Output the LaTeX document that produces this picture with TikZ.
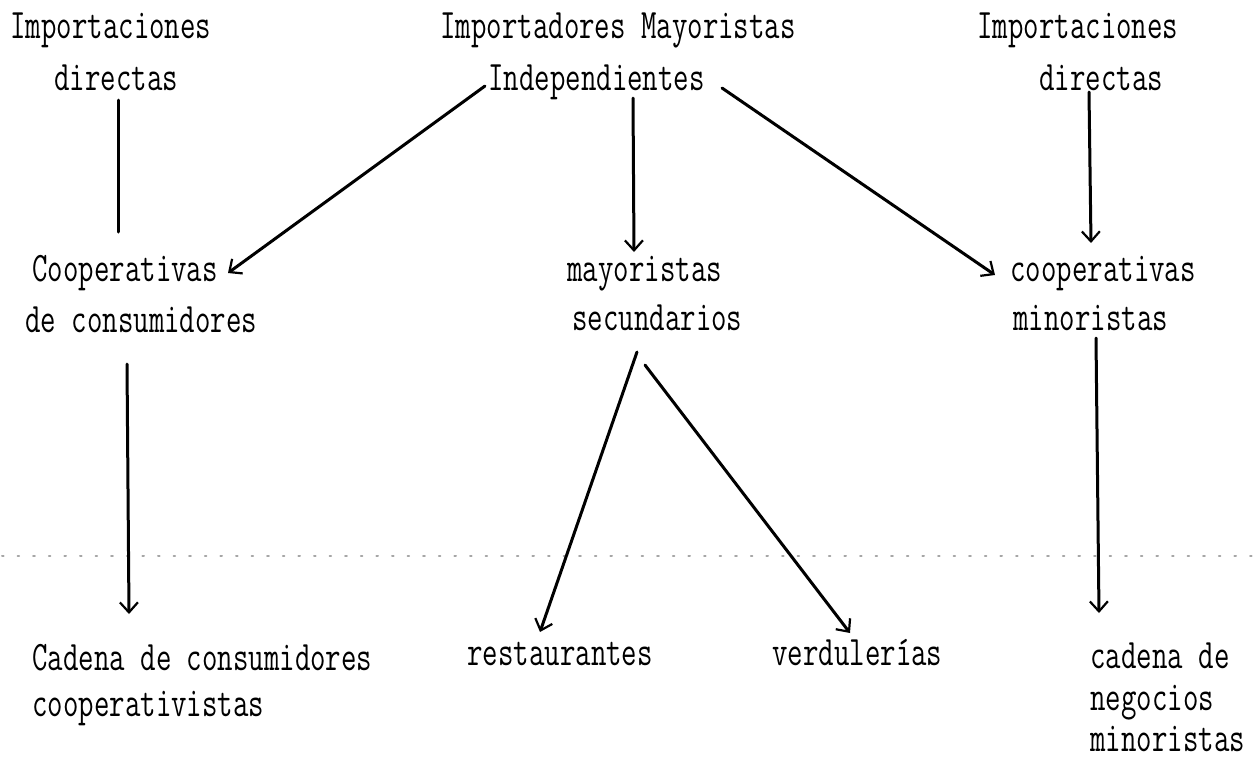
\documentclass[tikz,border=0pt]{standalone}
\usepackage{graphicx}
\usetikzlibrary{arrows.meta}
\newcommand{\typed}[1]{\scalebox{1}[1.4]{#1}}
\begin{document}
\begin{tikzpicture}[x=0.5pt,y=-0.5pt,
  tw/.style={anchor=base west, inner sep=0pt, font=\ttfamily\fontsize{15}{18}\selectfont},
  conn/.style={line width=1.5pt, line cap=round},
  arr/.style={conn,-{Straight Barb[length=5pt,width=9pt,line width=1.1pt]}},
  dotline/.style={gray!70, line width=1pt, line cap=round, dash pattern=on 0.8pt off 7pt}]
\useasboundingbox (0,0) rectangle (1260,761);

% top row
\node[tw] (impLa) at (10,38) {\typed{Importaciones}};
\node[tw] (impLb) at (54,90) {\typed{directas}};
\node[tw] (imaMa) at (440,38) {\typed{Importadores Mayoristas}};
\node[tw] (imaMb) at (488,90) {\typed{Independientes}};
\node[tw] (impRa) at (977,38) {\typed{Importaciones}};
\node[tw] (impRb) at (1039,90) {\typed{directas}};

% middle row
\node[tw] (copLa) at (32,281) {\typed{Cooperativas}};
\node[tw] (copLb) at (25,332) {\typed{de consumidores}};
\node[tw] (mayMa) at (567,281) {\typed{mayoristas}};
\node[tw] (mayMb) at (572,330) {\typed{secundarios}};
\node[tw] (copRa) at (1010,281) {\typed{cooperativas}};
\node[tw] (copRb) at (1013,330) {\typed{minoristas}};

% bottom row
\node[tw] (cadLa) at (32,670) {\typed{Cadena de consumidores}};
\node[tw] (cadLb) at (32,716) {\typed{cooperativistas}};
\node[tw] (rest) at (467,665) {\typed{restaurantes}};
\node[tw] (verd) at (772,665) {\typed{verduler\'{\i}as}};
\node[tw] (cadRa) at (1090,668) {\typed{cadena de}};
\node[tw] (cadRb) at (1090,710) {\typed{negocios}};
\node[tw] (cadRc) at (1090,751) {\typed{minoristas}};

% connector end points
\coordinate (s1) at (118,100);  \coordinate (t1) at (118,232);
\coordinate (s2) at (485,86);   \coordinate (t2) at (228,273);
\coordinate (s3) at (633,98);   \coordinate (t3) at (634,252);
\coordinate (s4) at (722,88);   \coordinate (t4) at (995,275);
\coordinate (s5) at (1089,92);  \coordinate (t5) at (1091,243);
\coordinate (s6) at (127,364);  \coordinate (t6) at (129,614);
\coordinate (s7) at (637,352);  \coordinate (t7) at (540,632);
\coordinate (s8) at (645,365);  \coordinate (t8) at (850,633);
\coordinate (s9) at (1096,338); \coordinate (t9) at (1099,613);
\coordinate (dl) at (2,556);    \coordinate (dr) at (1256,556);

\draw[dotline] (dl) -- (dr);

\draw[conn] (s1) -- (t1);
\draw[arr] (s2) -- (t2);
\draw[arr] (s3) -- (t3);
\draw[arr] (s4) -- (t4);
\draw[arr] (s5) -- (t5);
\draw[arr] (s6) -- (t6);
\draw[arr] (s7) -- (t7);
\draw[arr] (s8) -- (t8);
\draw[arr] (s9) -- (t9);
\end{tikzpicture}
\end{document}
